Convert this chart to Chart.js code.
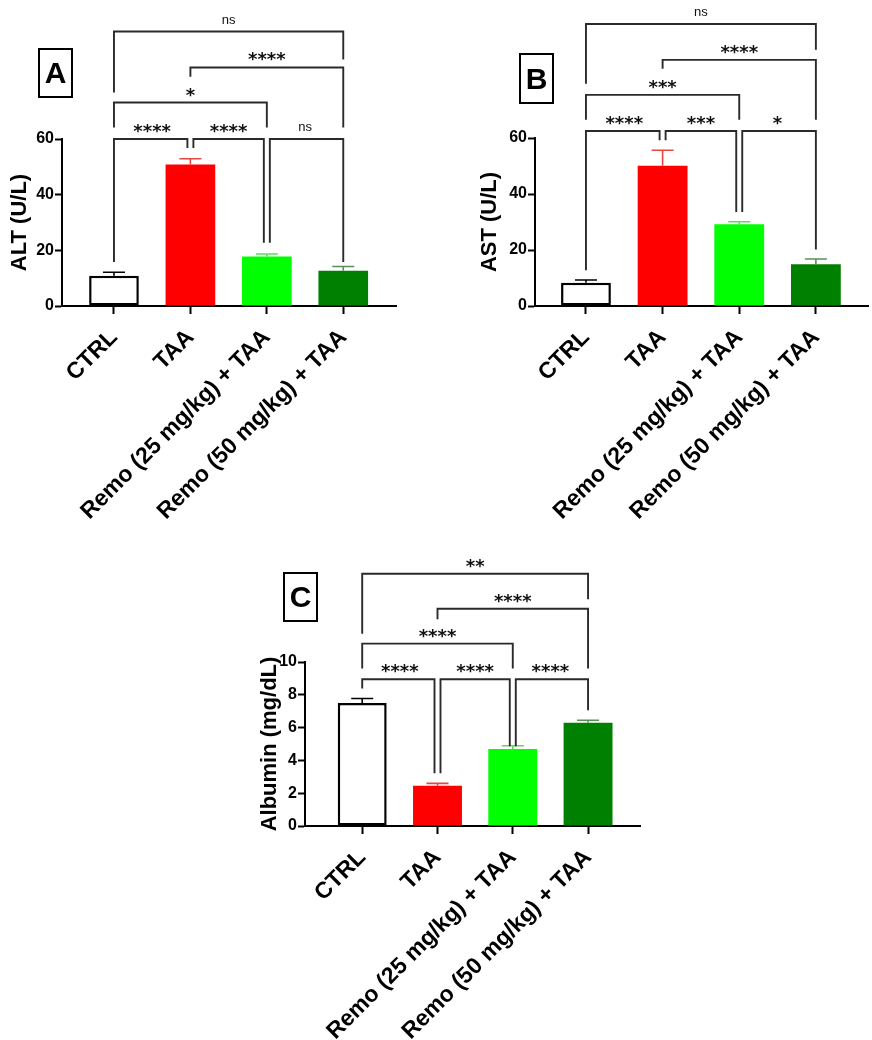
<!DOCTYPE html>
<html>
<head>
<meta charset="utf-8">
<script src="https://cdn.jsdelivr.net/npm/chart.js@4.4.1/dist/chart.umd.min.js"></script>
<style>
  html, body { margin: 0; padding: 0; background: #fff; }
  #page { position: relative; width: 872px; height: 1040px; overflow: hidden; }
  canvas { position: absolute; }
  .tag {
    position: absolute; box-sizing: border-box; border: 2.5px solid #000;
    font: bold 30px "Liberation Sans", Arial, sans-serif; color: #000;
    display: flex; align-items: center; justify-content: center;
  }
</style>
</head>
<body>
<div id="page">
  <canvas id="chartA" width="436" height="520" style="left:0;top:0"></canvas>
  <canvas id="chartB" width="399" height="520" style="left:473px;top:0"></canvas>
  <canvas id="chartC" width="420" height="520" style="left:243px;top:520px"></canvas>
  <div class="tag" style="left:38px;top:48px;width:35px;height:50px">A</div>
  <div class="tag" style="left:519px;top:53px;width:35px;height:51px">B</div>
  <div class="tag" style="left:283px;top:572px;width:35px;height:50px">C</div>
</div>
<script>
// ---------- Datos ----------
const groups = ["CTRL", "TAA", "Remo (25 mg/kg) + TAA", "Remo (50 mg/kg) + TAA"];

const altMean = [10.9, 50.8, 17.8, 12.7];
const altSem = [1.2, 2.1, 0.9, 1.5];
const astMean = [8.3, 50.1, 29.2, 14.9];
const astSem = [1.0, 5.5, 0.9, 1.9];
const albMean = [7.5, 2.45, 4.69, 6.29];
const albSem = [0.27, 0.15, 0.2, 0.16];

const ticksAST = [0, 20, 40, 60];
const ticksALB = [0, 2, 4, 6, 8, 10];

// [grupo1, grupo2, altura, fin pata izq, fin pata der, etiqueta]
const altBrackets = [
  [0, 3, 98.6, 76.7, 88.6, "ns"],
  [1, 3, 85.7, 82.4, 64.1, "****"],
  [0, 2, 73.1, 64.1, 64.1, "*"],
  [0, 1, 60, 15.8, 56.8, "****"],
  [1, 2, 60, 56.8, 22.7, "****"],
  [2, 3, 60, 22.7, 15.8, "ns"],
];
const astBrackets = [
  [0, 3, 100.7, 79.4, 91.5, "ns"],
  [1, 3, 87.9, 84.7, 66.5, "****"],
  [0, 2, 75.4, 66.5, 66.5, "***"],
  [0, 1, 62.5, 12.8, 59.2, "****"],
  [1, 2, 62.5, 59.2, 33.6, "***"],
  [2, 3, 62.5, 33.6, 20.2, "*"],
];
const albBrackets = [
  [0, 3, 15.38, 11.73, 13.82, "**"],
  [1, 3, 13.25, 12.6, 9.6, "****"],
  [0, 2, 11.12, 9.6, 9.6, "****"],
  [0, 1, 8.95, 8.38, 3.21, "****"],
  [1, 2, 8.95, 3.21, 4.87, "****"],
  [2, 3, 8.95, 4.87, 7.06, "****"],
];

// ---------- Estilo ----------
const FONT = "'Liberation Sans', Arial, sans-serif";
const barFill = ["#ffffff", "#ff0000", "#00ff00", "#008000"];
const barEdge = ["#000000", "#ff0000", "#00ff00", "#008000"];
const errColor = ["#000000", "#e8463c", "#62d862", "#5a8f5a"];

// barras de error + corchetes de significancia
function overlay(mean, sem, brackets) {
  return {
    id: "overlay",
    afterDatasetsDraw(chart) {
      const { ctx } = chart;
      const xs = chart.scales.x, ys = chart.scales.y;
      ctx.save();
      ctx.lineWidth = 1.6;
      mean.forEach((m, i) => {
        const px = xs.getPixelForValue(i);
        const y0 = ys.getPixelForValue(m);
        const y1 = ys.getPixelForValue(m + sem[i]);
        ctx.strokeStyle = errColor[i];
        ctx.beginPath();
        ctx.moveTo(px, y0); ctx.lineTo(px, y1);
        ctx.moveTo(px - 11, y1); ctx.lineTo(px + 11, y1);
        ctx.stroke();
      });

      ctx.strokeStyle = "#2a2a2a";
      ctx.fillStyle = "#111";
      ctx.lineWidth = 1.9;
      ctx.textAlign = "center";
      ctx.textBaseline = "alphabetic";
      brackets.forEach((b) => {
        const row = brackets.filter((o) => o !== b && o[2] === b[2]);
        const cl = xs.getPixelForValue(b[0]);
        const cr = xs.getPixelForValue(b[1]);
        let xl = cl, xr = cr;
        if (row.some((o) => o[1] === b[0])) xl += 3;
        if (row.some((o) => o[0] === b[1])) xr -= 3;
        const yt = ys.getPixelForValue(b[2]);
        ctx.beginPath();
        ctx.moveTo(xl, ys.getPixelForValue(b[3]));
        ctx.lineTo(xl, yt);
        ctx.lineTo(xr, yt);
        ctx.lineTo(xr, ys.getPixelForValue(b[4]));
        ctx.stroke();
        if (b[5] === "ns") {
          ctx.font = "13px " + FONT;
          ctx.fillText(b[5], (cl + cr) / 2, yt - 8);
        } else {
          ctx.font = "bold 18px 'DejaVu Sans'";
          ctx.fillText(b[5], (cl + cr) / 2, yt - 2);
        }
      });
      ctx.restore();
    },
  };
}

function makeChart(id, cfg) {
  const axisGrid = {
    display: true, drawOnChartArea: false, drawTicks: true,
    tickLength: 7, tickWidth: 2, tickColor: "#000", offset: false,
  };
  return new Chart(document.getElementById(id), {
    type: "bar",
    data: {
      datasets: [{
        data: cfg.mean.map((v, i) => ({ x: i, y: v })),
        backgroundColor: barFill,
        borderColor: barEdge,
        borderWidth: [2.5, 0, 0, 0],
        borderSkipped: false,
        barPercentage: 0.65,
        categoryPercentage: 1,
      }],
    },
    options: {
      responsive: false,
      animation: false,
      events: [],
      layout: { autoPadding: false, padding: { top: cfg.top, right: cfg.right, left: 0, bottom: 0 } },
      plugins: { legend: { display: false }, tooltip: { enabled: false } },
      scales: {
        x: {
          type: "linear",
          min: cfg.xMin, max: cfg.xMax,
          offset: false,
          afterBuildTicks: (s) => { s.ticks = groups.map((_, i) => ({ value: i })); },
          afterFit: (s) => { s.height = 520 - cfg.bottom; },
          grid: Object.assign({}, axisGrid, { tickLength: 8 }),
          border: { display: true, color: "#000", width: 2 },
          ticks: {
            autoSkip: false, minRotation: 45, maxRotation: 45, padding: 10,
            color: "#000", font: { family: FONT, size: 23, weight: "bold" },
            callback: (v) => groups[v],
          },
        },
        y: {
          min: 0, max: cfg.yMax,
          afterBuildTicks: (s) => { s.ticks = cfg.yTicks.map((v) => ({ value: v })); },
          afterFit: (s) => { s.width = 62; },
          grid: axisGrid,
          border: { display: true, color: "#000", width: 2 },
          ticks: { padding: 1, color: "#000", font: { family: FONT, size: 16, weight: "bold" } },
          title: {
            display: true, text: cfg.title, color: "#000",
            font: { family: FONT, size: 22, weight: "bold" },
            padding: { top: cfg.titlePad, bottom: 0 },
          },
        },
      },
    },
    plugins: [overlay(cfg.mean, cfg.sem, cfg.brackets)],
  });
}

makeChart("chartA", {
  mean: altMean, sem: altSem, brackets: altBrackets, title: "ALT (U/L)",
  yMax: 60, yTicks: ticksAST, top: 139, bottom: 306, right: 40,
  xMin: -0.68, xMax: 3.69, titlePad: 7,
});
makeChart("chartB", {
  mean: astMean, sem: astSem, brackets: astBrackets, title: "AST (U/L)",
  yMax: 60, yTicks: ticksAST, top: 138, bottom: 306, right: 4,
  xMin: -0.665, xMax: 3.68, titlePad: 4,
});
makeChart("chartC", {
  mean: albMean, sem: albSem, brackets: albBrackets, title: "Albumin (mg/dL)",
  yMax: 10, yTicks: ticksALB, top: 142, bottom: 306, right: 23,
  xMin: -0.76, xMax: 3.69, titlePad: 14,
});
</script>
</body>
</html>
